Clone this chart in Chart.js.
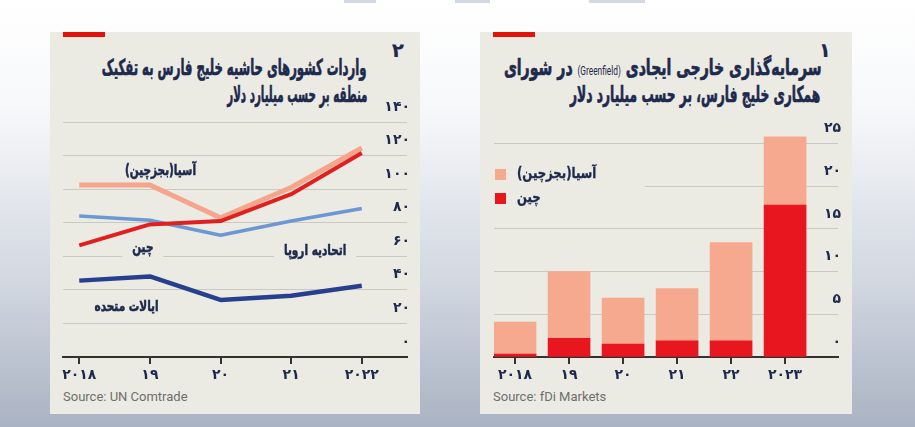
<!DOCTYPE html>
<html>
<head>
<meta charset="utf-8">
<script src="https://cdn.jsdelivr.net/npm/chart.js@4.4.0/dist/chart.umd.min.js"></script>
<style>
  body {
    margin: 0; width: 915px; height: 427px; overflow: hidden; position: relative;
    background: linear-gradient(to bottom, #ffffff 0%, #f7f8fa 25%, #d3d8e1 65%, #aab3c3 100%);
  }
  .mark { position: absolute; top: 0; height: 3px; background: #d3d9e3; }
  .panel { position: absolute; top: 32px; height: 382px; background: #ecebe3; }
  #p1 { left: 50px; width: 370px; }
  #p2 { left: 480px; width: 372px; }
  .redbar { position: absolute; left: 13px; top: 0; width: 42px; height: 5px; background: #e3120b; }
  .num { position: absolute; top: 6px; font: bold 20px "DejaVu Sans"; color: #1d2a4d; }
  .tl {
    position: absolute; direction: rtl; white-space: nowrap; transform-origin: right center;
    font: bold 22px/26px "DejaVu Sans"; color: #1d2a4d; -webkit-text-stroke: 0.7px #1d2a4d;
  }
  .tl .latin { font: 13px "Liberation Sans Narrow", Roboto; -webkit-text-stroke: 0; }
  canvas { position: absolute; left: 0; top: 0; }
  .source { position: absolute; left: 13px; top: 357px; font: 13px Roboto; color: #6e6e6e; }
  .legend { position: absolute; left: 13px; top: 132px; width: 152px; height: 46px; background: #ecebe3; }
  .legend div { position: absolute; left: 24px; direction: rtl; white-space: nowrap; transform: scaleX(0.78);
    transform-origin: left center; font: bold 15px "DejaVu Sans"; color: #1d2a4d; -webkit-text-stroke: 0.4px #1d2a4d; }
  .legend span { position: absolute; left: 2px; width: 11px; height: 11px; }
</style>
</head>
<body>
<div class="mark" style="left:344px;width:32px"></div>
<div class="mark" style="left:455px;width:35px"></div>
<div class="mark" style="left:589px;width:56px"></div>

<div class="panel" id="p1">
  <div class="redbar"></div>
  <div class="num" style="right:16px">۲</div>
  <div class="tl" data-w="265" style="right:53px;top:23px">واردات کشورهای حاشیه خلیج فارس به تفکیک</div>
  <div class="tl" data-w="140" style="right:53px;top:50px">منطقه بر حسب میلیارد دلار</div>
  <canvas id="importsChart" width="370" height="355"></canvas>
  <div class="source">Source: UN Comtrade</div>
</div>

<div class="panel" id="p2">
  <div class="redbar"></div>
  <div class="num" style="right:21px">۱</div>
  <div class="tl" data-w="318" style="right:30px;top:23px">سرمایه‌گذاری خارجی ایجادی <span class="latin">(Greenfield)</span> در شورای</div>
  <div class="tl" data-w="250" style="right:32px;top:50px">همکاری خلیج فارس، بر حسب میلیارد دلار</div>
  <canvas id="fdiChart" width="372" height="355"></canvas>
  <div class="legend">
    <span style="top:5px;background:#f7a98f"></span><div style="top:0px">آسیا(بجزچین)</div>
    <span style="top:29px;background:#e8161f"></span><div style="top:24px">چین</div>
  </div>
  <div class="source">Source: fDi Markets</div>
</div>

<script>
// chart 2: imports, billion $
const years = [2018, 2019, 2020, 2021, 2022];
const yearLabels = ['۲۰۱۸', '۱۹', '۲۰', '۲۱', '۲۰۲۲'];
const chinaImports = [66.5, 79, 81, 97, 121.5];
const asiaImports = [102.5, 102.5, 83, 101, 124.5];
const euImports = [84, 81.5, 72.5, 81, 88.5];
const usImports = [45.5, 48, 34, 36.5, 42.5];
const importTicks = [0, 20, 40, 60, 80, 100, 120, 140];
const importTickLabels = ['۰', '۲۰', '۴۰', '۶۰', '۸۰', '۱۰۰', '۱۲۰', '۱۴۰'];
const seriesNames = ['چین', 'آسیا(بجزچین)', 'اتحادیه اروپا', 'ایالات متحده'];

// chart 1: greenfield FDI, billion $
const fdiLabels = ['۲۰۱۸', '۱۹', '۲۰', '۲۱', '۲۲', '۲۰۲۳'];
const fdiChina = [0.35, 2.2, 1.5, 1.9, 1.9, 17.8];
const fdiAsia = [3.75, 7.8, 5.4, 6.1, 11.5, 8.0];
const fdiTicks = [0, 5, 10, 15, 20, 25];
const fdiTickLabels = ['۰', '۵', '۱۰', '۱۵', '۲۰', '۲۵'];

// squeeze the titles to the width of the condensed original face
document.querySelectorAll('.tl').forEach(el => {
  el.style.transform = 'scaleX(' + (el.dataset.w / el.offsetWidth) + ')';
});

const navy = '#1d2a4d';
const faFont = "'DejaVu Sans'";
const tickFont = { family: faFont, size: 14, weight: 'bold' };

// where the line names sit (in data units)
const notePlaces = [
  { name: 1, x: 2019.15, y: 110.5 },
  { name: 0, x: 2018.9, y: 65 },
  { name: 2, x: 2021.34, y: 63 },
  { name: 3, x: 2018.67, y: 30 }
];

const lineNotes = {
  id: 'lineNotes',
  beforeDatasetsDraw(chart) {
    const ctx = chart.ctx;
    const xs = chart.scales.x, ys = chart.scales.y;
    notePlaces.forEach(n => {
      const px = xs.getPixelForValue(n.x), py = ys.getPixelForValue(n.y);
      ctx.save();
      ctx.translate(px, py);
      ctx.scale(0.7, 1);
      ctx.font = 'bold 15px ' + faFont;
      ctx.direction = 'rtl';
      ctx.textAlign = 'center';
      ctx.textBaseline = 'middle';
      const w = ctx.measureText(seriesNames[n.name]).width;
      ctx.fillStyle = '#ecebe3';
      ctx.fillRect(-w / 2 - 14, -10, w + 28, 20);
      ctx.fillStyle = navy;
      ctx.strokeStyle = navy;
      ctx.lineWidth = 0.6;
      ctx.fillText(seriesNames[n.name], 0, 0);
      ctx.strokeText(seriesNames[n.name], 0, 0);
      ctx.restore();
    });
  }
};

function xAxis(min, max, ticks, labels) {
  return {
    type: 'linear', min: min, max: max, offset: false,
    afterBuildTicks: s => { s.ticks = ticks.map(v => ({ value: v })); },
    afterFit: s => { s.height = 30; },
    grid: { offset: false, drawOnChartArea: false, drawTicks: true, tickLength: 7, color: '#333', lineWidth: 2 },
    border: { display: true, color: '#333', width: 2 },
    ticks: { font: tickFont, color: navy, padding: 3, maxRotation: 0,
      callback: v => labels[ticks.indexOf(v)] }
  };
}

function yAxis(max, ticks, labels) {
  return {
    position: 'right', min: 0, max: max,
    afterBuildTicks: s => { s.ticks = ticks.map(v => ({ value: v })); },
    afterFit: s => { s.width = 0; },
    grid: { color: '#cbcac2', lineWidth: 1, drawTicks: false },
    border: { display: false },
    ticks: { mirror: true, padding: 3, labelOffset: -15, font: tickFont, color: navy,
      callback: v => labels[ticks.indexOf(v)] }
  };
}

function points(vals) {
  return vals.map((v, i) => ({ x: years[i], y: v }));
}

new Chart(document.getElementById('importsChart'), {
  type: 'line',
  data: {
    datasets: [
      { label: seriesNames[0], data: points(chinaImports), borderColor: '#e0201f', borderWidth: 4 },
      { label: seriesNames[1], data: points(asiaImports), borderColor: '#f5a58c', borderWidth: 5 },
      { label: seriesNames[2], data: points(euImports), borderColor: '#6b97d5', borderWidth: 3.5 },
      { label: seriesNames[3], data: points(usImports), borderColor: '#283f8e', borderWidth: 4.5 }
    ]
  },
  options: {
    responsive: false, animation: false,
    layout: { padding: { left: 13, right: 13, top: 90, bottom: 0 } },
    elements: { point: { radius: 0 }, line: { tension: 0, borderJoinStyle: 'round' } },
    plugins: { legend: { display: false }, tooltip: { enabled: false } },
    scales: {
      x: xAxis(2017.77, 2022.64, years, yearLabels),
      y: yAxis(140, importTicks, importTickLabels)
    }
  },
  plugins: [lineNotes]
});

const fdiIdx = fdiLabels.map((l, i) => i);
function bars(vals) {
  return vals.map((v, i) => ({ x: fdiIdx[i], y: v }));
}

new Chart(document.getElementById('fdiChart'), {
  type: 'bar',
  data: {
    datasets: [
      { label: 'چین', data: bars(fdiChina), backgroundColor: '#e8161f', barThickness: 42 },
      { label: 'آسیا(بجزچین)', data: bars(fdiAsia), backgroundColor: '#f7a98f', barThickness: 42 }
    ]
  },
  options: {
    responsive: false, animation: false,
    layout: { padding: { left: 14, right: 14, top: 103, bottom: 0 } },
    plugins: { legend: { display: false }, tooltip: { enabled: false } },
    scales: {
      x: Object.assign(xAxis(-0.39, 5.98, fdiIdx, fdiLabels), { stacked: true }),
      y: Object.assign(yAxis(26, fdiTicks, fdiTickLabels), { stacked: true })
    }
  }
});
</script>
</body>
</html>
